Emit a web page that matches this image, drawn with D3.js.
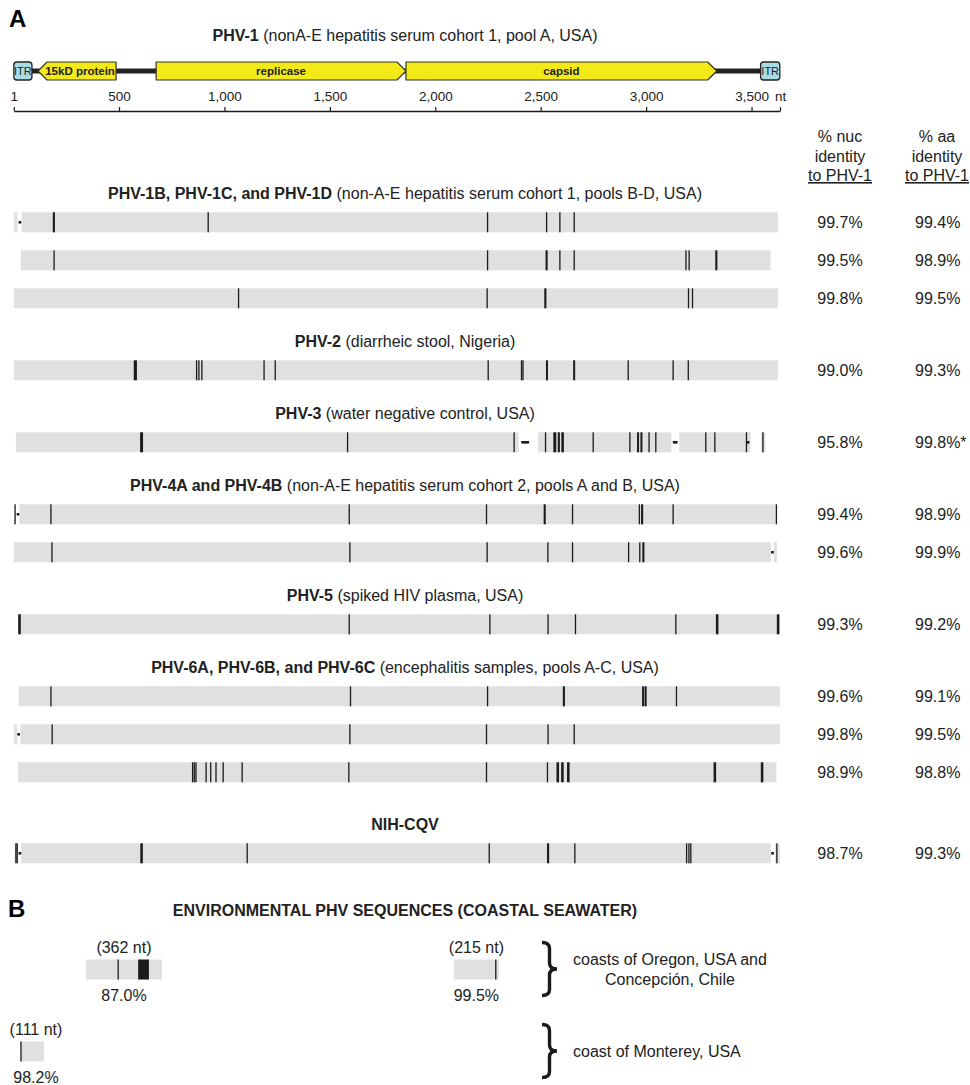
<!DOCTYPE html>
<html>
<head>
<meta charset="utf-8">
<script src="https://cdn.jsdelivr.net/npm/d3@7"></script>
<style>
  body { margin: 0; background: #fff; }
  svg { display: block; font-family: "Liberation Sans", Arial, sans-serif; }
</style>
</head>
<body>
<svg id="fig" width="970" height="1085"></svg>
<script>
// ---- reference genome (PHV-1) ----
var genomeLength = 3635;
var geneNames = ["ITR", "15kD protein", "replicase", "capsid", "ITR"];
var geneStart = [1, 116, 676, 1861, 3543];
var geneEnd = [87, 486, 1861, 3335, 3634];
var geneStrand = [0, -1, 1, 1, 0];   // 0 = repeat box
var axisTicks = [1, 500, 1000, 1500, 2000, 2500, 3000, 3500];

// ---- groups of aligned genomes ----
var groupBold = ["PHV-1B, PHV-1C, and PHV-1D", "PHV-2", "PHV-3", "PHV-4A and PHV-4B",
  "PHV-5", "PHV-6A, PHV-6B, and PHV-6C", "NIH-CQV"];
var groupDetail = ["(non-A-E hepatitis serum cohort 1, pools B-D, USA)", "(diarrheic stool, Nigeria)",
  "(water negative control, USA)", "(non-A-E hepatitis serum cohort 2, pools A and B, USA)",
  "(spiked HIV plasma, USA)", "(encephalitis samples, pools A-C, USA)", ""];
var groupSize = [3, 1, 1, 2, 1, 3, 1];

// one entry per sequence row (nt coordinates on PHV-1)
var seqStart = [1, 34, 1, 1, 11, 5, 1, 21, 24, 1, 21, 5];
var seqEnd = [3625, 3590, 3625, 3625, 3565, 3620, 3620, 3634, 3634, 3634, 3618, 3634];
// mismatches: single nt or [from, to] runs
var seqMarks = [
  [[186, 196], 923, 2248, 2528, 2591, 2659],
  [192, 2248, [2523, 2533], 2591, 2659, 3189, 3204, [3328, 3338]],
  [1067, 2246, [2517, 2527], 3201, 3220],
  [[570, 585], 868, 879, 893, 1188, 1241, 2251, 2409, 2416, [2525, 2531], [2654, 2660], 2915, 3128, 3200],
  [[600, 614], 1584, 2374, 2523, [2560, 2574], [2581, 2591], [2598, 2610], 2749, 2923, [2957, 2965], [2973, 2981], 3014, 3046, 3283, 3326, 3476, 3554],
  [7, 177, 1592, 2243, [2514, 2524], 2651, 2968, [2976, 2986], 3128, 3618],
  [182, 1595, 2246, 2534, 2651, 2917, 2970, [2982, 2992]],
  [[22, 34], 1592, 2259, 2535, 2665, 3141, [3331, 3343], [3620, 3632]],
  [177, 1598, 2248, [2605, 2615], [2981, 2989], [2993, 3001], 3144],
  [183, 1595, 2243, 2535, 2659],
  [849, 857, 865, 913, 935, 960, 994, 1084, 1590, 2243, 2532, [2575, 2587], [2597, 2609], [2625, 2637], [3320, 3332], [3544, 3556]],
  [11, 17, [601, 613], 1108, 2256, [2530, 2540], 2662, 3192, 3203, 3212, 3620]
];
var seqGaps = [
  [[18, 38]], [], [], [], [[2396, 2488], [3120, 3157], [3495, 3545]], [[9, 28]], [[3592, 3606]],
  [], [], [[18, 32]], [], [[22, 36], [3592, 3612]]
];
var seqDels = [[], [], [], [], [[2408, 2445], [3127, 3149]], [], [], [], [], [], [], []];
var seqDots = [[30], [], [], [], [3484], [21], [3599], [], [], [24], [], [30, 3600]];
var nucIdentity = ["99.7%", "99.5%", "99.8%", "99.0%", "95.8%", "99.4%", "99.6%", "99.3%", "99.6%", "99.8%", "98.9%", "98.7%"];
var aaIdentity = ["99.4%", "98.9%", "99.5%", "99.3%", "99.8%*", "98.9%", "99.9%", "99.2%", "99.1%", "99.5%", "98.8%", "99.3%"];

// ---- panel B: environmental fragments ----
var envLength = [362, 215, 111];
var envStart = [343, 2088, 34];
var envMarks = [[496, [591, 642]], [2287], [35]];
var envIdentity = ["87.0%", "99.5%", "98.2%"];
var envLine = [0, 0, 1];
var regionLines = [["coasts of Oregon, USA and", "Concepción, Chile"], ["coast of Monterey, USA"]];

// ---- layout ----
var svg = d3.select("#fig");
var ink = "#1b1b1b", barFill = "#dfe0e2", txt = "#222";
var x = d3.scaleLinear().domain([1, genomeLength]).range([13.8, 780]);
var cx = 405, nucX = 840, aaX = 937, barH = 20, fs = 16;

// panel letters
svg.append("text").attr("x", 9).attr("y", 27).attr("font-size", 24).attr("font-weight", "bold").text("A");
svg.append("text").attr("x", 8).attr("y", 917).attr("font-size", 24).attr("font-weight", "bold").text("B");

// title of reference
var t0 = svg.append("text").attr("x", cx).attr("y", 41).attr("text-anchor", "middle")
  .attr("font-size", fs).attr("fill", txt);
t0.append("tspan").attr("font-weight", "bold").text("PHV-1");
t0.append("tspan").text(" (nonA-E hepatitis serum cohort 1, pool A, USA)");

// genome map
var mapY = 71, geneH = 18, head = 9;
svg.append("line").attr("x1", x(geneEnd[0])).attr("x2", x(geneStart[4]))
  .attr("y1", mapY).attr("y2", mapY).attr("stroke", "#222").attr("stroke-width", 5);

function genePath(i) {
  var a = x(geneStart[i]), b = x(geneEnd[i]), t = mapY - geneH / 2, btm = mapY + geneH / 2;
  if (geneStrand[i] > 0) {
    return "M" + a + "," + t + "L" + (b - head) + "," + t + "L" + b + "," + mapY +
      "L" + (b - head) + "," + btm + "L" + a + "," + btm + "Z";
  }
  return "M" + b + "," + t + "L" + (a + head) + "," + t + "L" + a + "," + mapY +
    "L" + (a + head) + "," + btm + "L" + b + "," + btm + "Z";
}
var genes = svg.append("g").selectAll("g").data(d3.range(geneNames.length)).join("g");
genes.filter(function(i) { return geneStrand[i] === 0; }).append("rect")
  .attr("x", function(i) { return x(geneStart[i]); })
  .attr("width", function(i) { return x(geneEnd[i]) - x(geneStart[i]); })
  .attr("y", mapY - geneH / 2).attr("height", geneH).attr("rx", 3)
  .attr("fill", "#a9dde3").attr("stroke", "#222").attr("stroke-width", 1.3);
genes.filter(function(i) { return geneStrand[i] !== 0; }).append("path")
  .attr("d", genePath).attr("fill", "#f3ea17").attr("stroke", "#333")
  .attr("stroke-width", 1.2).attr("stroke-linejoin", "round");
genes.append("text")
  .attr("x", function(i) {
    var mid = (x(geneStart[i]) + x(geneEnd[i])) / 2;
    return mid + (geneStrand[i] < 0 ? 3 : 0);
  })
  .attr("y", mapY + 4).attr("text-anchor", "middle")
  .attr("font-size", function(i) { return geneStrand[i] === 0 ? 11 : 11.5; })
  .attr("font-weight", function(i) { return geneStrand[i] === 0 ? "normal" : "bold"; })
  .attr("fill", "#222")
  .text(function(i) { return geneNames[i]; });

// nt axis
var axis = d3.axisTop(x)
  .tickValues(axisTicks.concat([genomeLength]))
  .tickFormat(function(d) { return d === genomeLength ? "nt" : d3.format(",")(d); })
  .tickSize(4).tickSizeOuter(0).tickPadding(6);
var ax = svg.append("g").attr("transform", "translate(0,111)").call(axis);
ax.select(".domain").attr("stroke", ink).attr("stroke-width", 1.3);
ax.selectAll(".tick line").attr("stroke", ink).attr("stroke-width", 1.2);
ax.selectAll(".tick text").attr("font-size", 13.5).attr("fill", txt)
  .attr("font-family", "Liberation Sans, Arial, sans-serif");

// identity column headers
[[nucX, "% nuc"], [aaX, "% aa"]].forEach(function(h) {
  var g = svg.append("g").attr("text-anchor", "middle").attr("font-size", fs).attr("fill", txt);
  g.append("text").attr("x", h[0]).attr("y", 142).text(h[1]);
  g.append("text").attr("x", h[0]).attr("y", 161.5).text("identity");
  g.append("text").attr("x", h[0]).attr("y", 181).attr("text-decoration", "underline").text("to PHV-1");
});

// row positions
var rowY = [], headerY = [];
var yy = 222.3;
groupSize.forEach(function(n, g) {
  if (g > 0) yy += (g === groupSize.length - 1) ? 81 : 72;
  headerY.push(yy - 29);
  for (var k = 0; k < n; k++) {
    if (k) yy += 38;
    rowY.push(yy);
  }
});

// group headers
svg.append("g").selectAll("text").data(d3.range(groupBold.length)).join("text")
  .attr("x", cx).attr("y", function(g) { return headerY[g] + 5.5; })
  .attr("text-anchor", "middle").attr("font-size", fs).attr("fill", txt)
  .each(function(g) {
    var t = d3.select(this);
    t.append("tspan").attr("font-weight", "bold").text(groupBold[g]);
    if (groupDetail[g]) t.append("tspan").text(" " + groupDetail[g]);
  });

function drawSeq(sel, start, end, marks, gaps, dels, dots) {
  sel.append("rect").attr("x", x(start)).attr("width", x(end) - x(start))
    .attr("y", -barH / 2).attr("height", barH).attr("fill", barFill);
  sel.selectAll("rect.gap").data(gaps).join("rect").attr("class", "gap")
    .attr("x", function(d) { return x(d[0]); })
    .attr("width", function(d) { return x(d[1]) - x(d[0]); })
    .attr("y", -barH / 2 - 1).attr("height", barH + 2).attr("fill", "#fff");
  sel.selectAll("rect.del").data(dels).join("rect").attr("class", "del")
    .attr("x", function(d) { return x(d[0]); })
    .attr("width", function(d) { return x(d[1]) - x(d[0]); })
    .attr("y", -1.3).attr("height", 2.6).attr("fill", ink);
  sel.selectAll("rect.mm").data(marks).join("rect").attr("class", "mm")
    .attr("x", function(d) {
      return Array.isArray(d) ? x(d[0]) : x(d) - 0.65;
    })
    .attr("width", function(d) {
      return Array.isArray(d) ? Math.max(2, x(d[1]) - x(d[0])) : 1.3;
    })
    .attr("y", -barH / 2).attr("height", barH).attr("fill", ink);
  sel.selectAll("rect.dot").data(dots).join("rect").attr("class", "dot")
    .attr("x", function(d) { return x(d) - 1.3; }).attr("width", 2.6)
    .attr("y", -1.3).attr("height", 2.6).attr("fill", ink);
}

var rows = svg.append("g").selectAll("g").data(d3.range(seqStart.length)).join("g")
  .attr("transform", function(i) { return "translate(0," + rowY[i] + ")"; });
rows.each(function(i) {
  drawSeq(d3.select(this), seqStart[i], seqEnd[i], seqMarks[i], seqGaps[i], seqDels[i], seqDots[i]);
});
rows.append("text").attr("x", nucX).attr("y", 6).attr("text-anchor", "middle")
  .attr("font-size", fs).attr("fill", txt).text(function(i) { return nucIdentity[i]; });
rows.append("text").attr("x", aaX - 22).attr("y", 6).attr("text-anchor", "start")
  .attr("font-size", fs).attr("fill", txt).text(function(i) { return aaIdentity[i]; });

// ---- panel B ----
svg.append("text").attr("x", cx).attr("y", 916).attr("text-anchor", "middle")
  .attr("font-size", fs).attr("font-weight", "bold").attr("fill", txt)
  .text("ENVIRONMENTAL PHV SEQUENCES (COASTAL SEAWATER)");

var envRowY = [969.5, 1051.5];
var env = svg.append("g").selectAll("g").data(d3.range(envLength.length)).join("g")
  .attr("transform", function(i) { return "translate(0," + envRowY[envLine[i]] + ")"; });
env.each(function(i) {
  drawSeq(d3.select(this), envStart[i], envStart[i] + envLength[i] - 1, envMarks[i], [], [], []);
});
function envCenter(i) {
  var c = (x(envStart[i]) + x(envStart[i] + envLength[i] - 1)) / 2;
  return Math.max(c, 36);
}
env.append("text").attr("x", envCenter).attr("y", -17).attr("text-anchor", "middle")
  .attr("font-size", fs).attr("fill", txt).text(function(i) { return "(" + envLength[i] + " nt)"; });
env.append("text").attr("x", envCenter).attr("y", 31.5).attr("text-anchor", "middle")
  .attr("font-size", fs).attr("fill", txt).text(function(i) { return envIdentity[i]; });

// braces + sampling regions
function bracePath(bx, y0, y1, w) {
  var m = (y0 + y1) / 2, h = w * 0.5, q = 6;
  return "M" + bx + "," + y0 + "Q" + (bx + h) + "," + y0 + " " + (bx + h) + "," + (y0 + q) +
    "L" + (bx + h) + "," + (m - q) + "Q" + (bx + h) + "," + m + " " + (bx + w) + "," + m +
    "Q" + (bx + h) + "," + m + " " + (bx + h) + "," + (m + q) +
    "L" + (bx + h) + "," + (y1 - q) + "Q" + (bx + h) + "," + y1 + " " + bx + "," + y1;
}
var braceX = 542, braceW = 15;
envRowY.forEach(function(by, r) {
  svg.append("path").attr("d", bracePath(braceX, by - 27, by + 26, braceW))
    .attr("fill", "none").attr("stroke", ink).attr("stroke-width", 3.4);
  var lines = regionLines[r];
  var t = svg.append("text").attr("text-anchor", "middle").attr("font-size", fs).attr("fill", txt);
  lines.forEach(function(l, k) {
    t.append("tspan").attr("y", by + 5.5 - (lines.length - 1) * 10 + k * 20).text(l);
  });
  var w = 0;
  t.selectAll("tspan").each(function() { w = Math.max(w, this.getComputedTextLength()); });
  t.selectAll("tspan").attr("x", braceX + 31 + w / 2);
});
</script>
</body>
</html>
